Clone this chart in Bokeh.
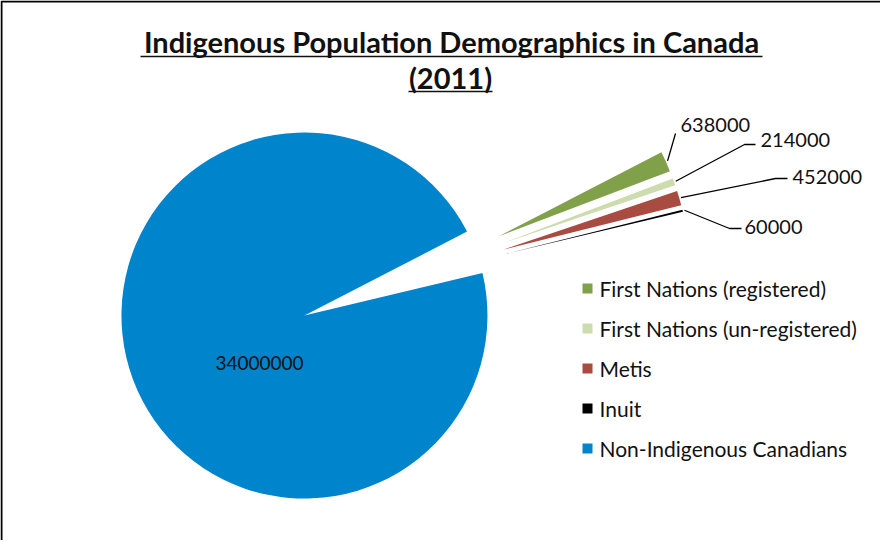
import math
from bokeh.plotting import figure
from bokeh.embed import file_html
from bokeh.resources import INLINE
from bokeh.models import ColumnDataSource
from bokeh.core.properties import value

# ---- data ----
categories = ["First Nations (registered)", "First Nations (un-registered)", "Metis", "Inuit",
              "Non-Indigenous Canadians"]
populations = [638000, 214000, 452000, 60000, 34000000]
colors = ["#80A14A", "#CDDCAE", "#A84B40", "#000000", "#0084CC"]
label_texts = [str(v) for v in populations]

# ---- layout (screen-like data units: 1 unit = 1 px) ----
W, H = 880, 540
FONT = "Lato"
CX, CY = 402.4, 261.5       # true pie centre
R = 183.0
EXPLODE = 105.0
START = math.radians(27.3)  # first slice starts here, slices run clockwise

def sy(y):  # page y -> data y
    return 548 - y

def sx(x):
    return x - 8

p = figure(width=W, height=H, x_range=(0, W), y_range=(0, H), output_backend="svg",
           toolbar_location=None, min_border=0)
p.axis.visible = False
p.grid.visible = False
p.outline_line_color = None
p.background_fill_color = "white"
p.border_fill_color = "white"

total = float(sum(populations))
starts, ends, xs, ys, mids = [], [], [], [], []
cum = 0.0
for v in populations:
    span = 2 * math.pi * v / total
    hi = START - cum
    lo = hi - span
    mid = (hi + lo) / 2
    starts.append(lo)
    ends.append(hi)
    mids.append(mid)
    xs.append(CX + EXPLODE * math.cos(mid))
    ys.append(CY + EXPLODE * math.sin(mid))
    cum += span

src = ColumnDataSource(dict(x=xs, y=ys, start=starts, end=ends, color=colors))
p.wedge(x="x", y="y", radius=R, start_angle="start", end_angle="end", direction="anticlock",
        fill_color="color", line_color=None, source=src)

# ---- data labels with leader lines (small slices) ----
# (text left x, text centre y, elbow x, elbow y, end x) in page coordinates
label_pos = [(688, 132, 683, 141, 683),
             (768, 147, 752, 152, 763),
             (800, 184, 783, 186, 795),
             (752, 234, 737, 236, 749)]
for i in range(4):
    tx, ty, ex, ey, hx = label_pos[i]
    ax = xs[i] + R * 1.01 * math.cos(mids[i])
    ay = ys[i] + R * 1.01 * math.sin(mids[i])
    p.line([ax, sx(ex), sx(hx)], [ay, sy(ey), sy(ey)], line_color="#000000", line_width=1.3)
    p.text([sx(tx)], [sy(ty)], text=[label_texts[i]], text_font=value(FONT),
           text_font_size="20px", text_baseline="middle", text_align="left", text_color="#111111")

# big slice label
p.text([sx(267)], [sy(370)], text=[label_texts[4]], text_font=value(FONT), text_font_size="19px",
       text_baseline="middle", text_align="center", text_color="#111111")

# ---- legend ----
leg_x, leg_y0, leg_dy = 595, 296, 40
for i, c in enumerate(categories):
    yy = sy(leg_y0 + i * leg_dy)
    p.rect([sx(leg_x)], [yy], width=10, height=10, fill_color=colors[i], line_color=None)
    p.text([sx(leg_x + 12)], [yy], text=[c], text_font=value(FONT), text_font_size="21px",
           text_baseline="middle", text_align="left", text_color="#111111")

# ---- title ----
title_lines = ["Indigenous Population Demographics in Canada", "(2011)"]
p.text([sx(459)], [sy(49)], text=[title_lines[0]], text_font=value(FONT), text_font_size="29px",
       text_font_style="bold", text_baseline="middle", text_align="center", text_color="#111111")
p.text([sx(458)], [sy(85)], text=[title_lines[1]], text_font=value(FONT), text_font_size="29px",
       text_font_style="bold", text_baseline="middle", text_align="center", text_color="#111111")
p.line([sx(148), sx(770)], [sy(64), sy(64)], line_color="#111111", line_width=1.5)
p.line([sx(416), sx(500)], [sy(99), sy(99)], line_color="#111111", line_width=1.5)

# ---- frame (left and top edges) ----
p.line([1, 1, W], [0, H - 1, H - 1], line_color="#000000", line_width=2)

open("out.html", "w").write(file_html(p, INLINE))
